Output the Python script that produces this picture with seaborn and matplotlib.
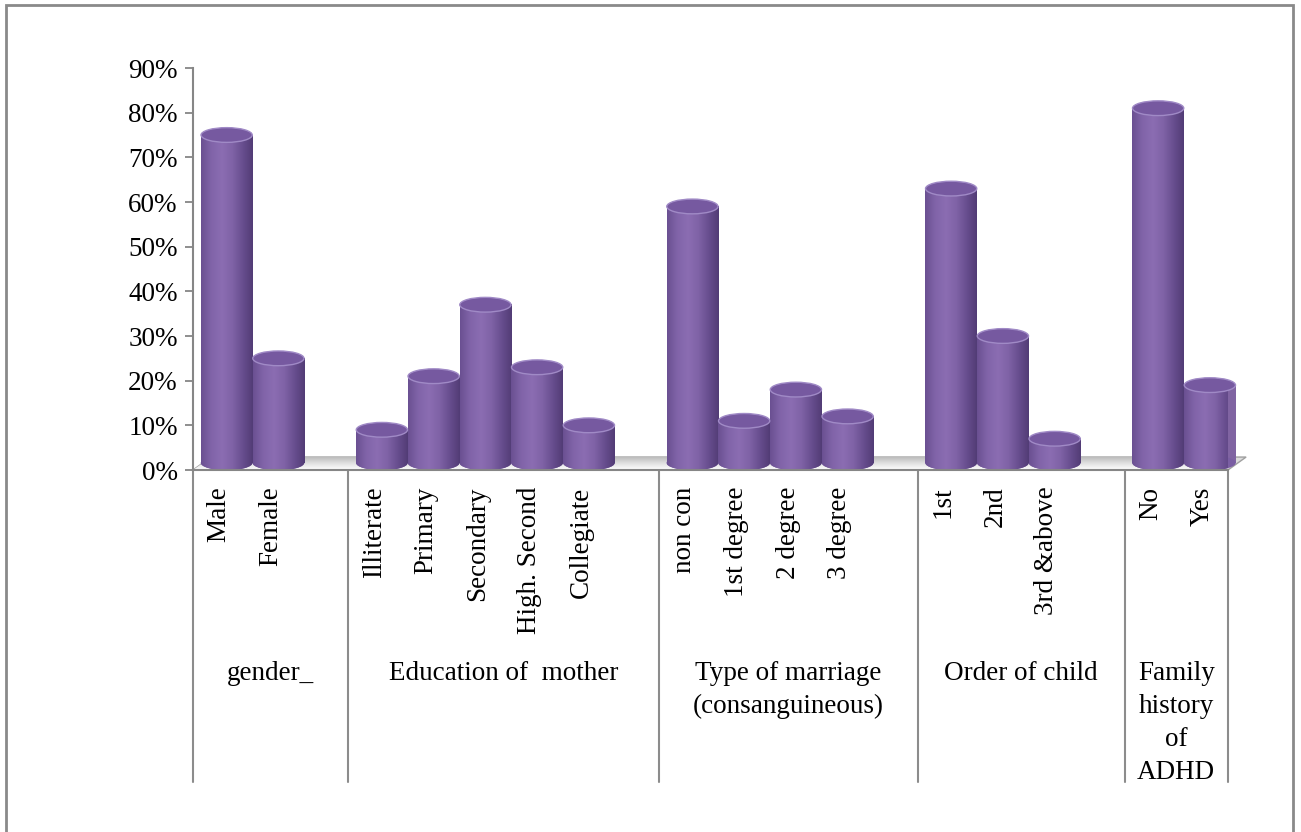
import numpy as np
import pandas as pd
import matplotlib
matplotlib.use("Agg")
import matplotlib.pyplot as plt
import seaborn as sns
import matplotlib.transforms as mtransforms
from matplotlib.patches import Ellipse, Polygon, Rectangle
from matplotlib.colors import LinearSegmentedColormap
from matplotlib.ticker import FuncFormatter

# ---------------- data ----------------
group_names = ["gender_", "Education of  mother", "Type of marriage\n(consanguineous)",
               "Order of child", "Family\nhistory\nof\nADHD"]
gender_labels = ["Male", "Female"]
gender_values = [75, 25]
education_labels = ["Illiterate", "Primary", "Secondary", "High. Second", "Collegiate"]
education_values = [9, 21, 37, 23, 10]
marriage_labels = ["non con", "1st degree", "2 degree", "3 degree"]
marriage_values = [59, 11, 18, 12]
order_labels = ["1st", "2nd", "3rd &above"]
order_values = [63, 30, 7]
family_labels = ["No", "Yes"]
family_values = [81, 19]
y_ticks = [0, 10, 20, 30, 40, 50, 60, 70, 80, 90]

group_labels = [gender_labels, education_labels, marriage_labels, order_labels, family_labels]
group_values = [gender_values, education_values, marriage_values, order_values, family_values]

# ---------------- category slots (one blank slot after each group but the last) ----------------
slots, labels, values, bounds, centers = [], [], [], [-0.5], []
s = 0
for gi, (labs, vals) in enumerate(zip(group_labels, group_values)):
    start = s
    for lab, v in zip(labs, vals):
        slots.append(s); labels.append(lab); values.append(v)
        s += 1
    if gi < len(group_labels) - 1:
        s += 1
    bounds.append(s - 0.5)
    centers.append((start - 0.5 + s - 0.5) / 2)
n_slots = s

depth_shift = 0.15  # 3-D look: bars stand slightly behind/right of the front edge
df = pd.DataFrame({"pos": np.array(slots, dtype=float) + depth_shift, "value": values})

# ---------------- style ----------------
sns.set_style("white")
plt.rcParams["font.family"] = ["Liberation Serif", "DejaVu Serif"]
FS = 19.5

W, H = 1301, 832
fig = plt.figure(figsize=(W / 100, H / 100), dpi=100)
fig.patch.set_facecolor("white")
ax_left, ax_right, ax_bottom_px, ax_top_px = 193, 1228, 470, 68
ax = fig.add_axes([ax_left / W, (H - ax_bottom_px) / H,
                   (ax_right - ax_left) / W, (ax_bottom_px - ax_top_px) / H])
ax.set_facecolor("none")

sns.barplot(data=df, x="pos", y="value", native_scale=True, width=1.0, color="#8064A2",
            saturation=1, errorbar=None, linewidth=0, ax=ax, zorder=3)
bars = list(ax.patches)

# cylinder shading
cyl = LinearSegmentedColormap.from_list(
    "cyl", ["#6a5091", "#8164a9", "#8b6db2", "#8063a7", "#684e8f", "#523c75"])
grad = np.linspace(0, 1, 256).reshape(1, -1)
ell_h = 3.3       # apparent height of the elliptical cap (data units)
base_y = 1.6      # centre of the bottom ellipse (cylinder stands on the floor)
for p in bars:
    x0, w, h = p.get_x(), p.get_width(), p.get_height()
    p.set_y(base_y)
    p.set_height(h - base_y)
    p.set_clip_on(False)
    bottom = Ellipse((x0 + w / 2, base_y), w, ell_h, facecolor="#7a5ea3",
                     linewidth=0, zorder=3, clip_on=False)
    ax.add_patch(bottom)
    for clipper, y0 in ((p, base_y), (bottom, base_y - ell_h / 2)):
        im = ax.imshow(grad, extent=(x0, x0 + w, y0, h), aspect="auto", cmap=cyl,
                       zorder=3.1, interpolation="bilinear")
        im.set_clip_path(clipper)
        im.set_clip_box(None)
    ax.add_patch(Ellipse((x0 + w / 2, h), w * 0.99, ell_h, facecolor="#7659a0",
                         edgecolor="#a08ac6", linewidth=1.0, zorder=4, clip_on=False))

# floor slab
fl_dx, fl_dy = 0.35, 2.9
floor_pts = [(-0.5, 0), (n_slots - 0.5, 0), (n_slots - 0.5 + fl_dx, fl_dy), (-0.5 + fl_dx, fl_dy)]
floor = Polygon(floor_pts, closed=True, facecolor="#dcdcdc", edgecolor="#a0a0a0",
                linewidth=1.0, zorder=2, clip_on=False)
ax.add_patch(floor)
fgrad = np.linspace(0, 1, 64).reshape(-1, 1)
fcm = LinearSegmentedColormap.from_list("floor", ["#ffffff", "#e2e2e2", "#bdbdbd"])
fim = ax.imshow(fgrad, extent=(-0.5, n_slots - 0.5 + fl_dx, 0, fl_dy), aspect="auto",
                cmap=fcm, zorder=2.1, origin="lower")
fim.set_clip_path(floor)
fim.set_clip_box(None)

ax.set_xlim(-0.5, n_slots - 0.5)
ax.set_ylim(0, 90)
ax.set_yticks(y_ticks)
ax.yaxis.set_major_formatter(FuncFormatter(lambda v, _: f"{v:.0f}%"))
ax.set_xticks(slots)
ax.set_xticklabels(labels, rotation=90)
ax.set_xlabel("")
ax.set_ylabel("")

ax.tick_params(axis="y", which="major", left=True, length=6, width=1.3, color="#868686",
               labelsize=FS, pad=5, labelcolor="black")
ax.tick_params(axis="x", which="major", bottom=False, length=0, labelsize=FS, pad=12,
               labelcolor="black")

for side in ["top", "right"]:
    ax.spines[side].set_visible(False)
ax.spines["left"].set_color("#868686")
ax.spines["left"].set_linewidth(1.5)
ax.spines["bottom"].set_color("#868686")
ax.spines["bottom"].set_linewidth(1.5)
ax.spines["bottom"].set_zorder(5)

# multi-level category table lines
trans = mtransforms.blended_transform_factory(ax.transData, ax.transAxes)
table_bottom = -(782 - ax_bottom_px) / (ax_bottom_px - ax_top_px)
for b in bounds:
    ax.plot([b, b], [0, table_bottom], transform=trans, color="#8c8c8c", lw=1.5,
            clip_on=False, zorder=1)

label_y = -(661 - ax_bottom_px) / (ax_bottom_px - ax_top_px)
for c, g in zip(centers, group_names):
    ax.text(c, label_y, g, transform=trans, ha="center", va="top", fontsize=FS,
            multialignment="center", linespacing=1.42, color="black")

# outer border (bottom edge runs off the picture, as in the reference)
fig.patches.append(Rectangle((6 / W, -10 / H), (W - 8 - 6) / W, (H + 10 - 5) / H,
                             transform=fig.transFigure, fill=False,
                             edgecolor="#8a8a8a", linewidth=2.0))

fig.savefig("out.png", dpi=100, facecolor="white")
